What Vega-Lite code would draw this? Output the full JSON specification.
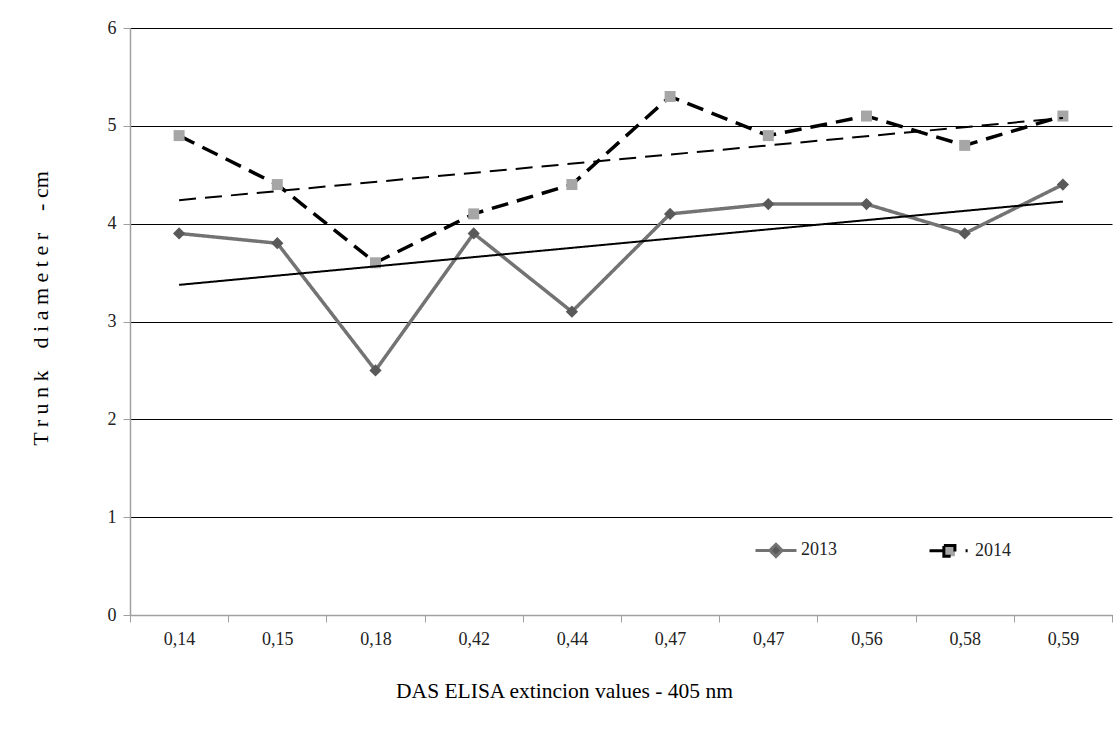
{
  "$schema": "https://vega.github.io/schema/vega-lite/v6.json",
  "width": 982,
  "height": 587,
  "autosize": {"type": "none"},
  "padding": {"left": 130, "top": 28, "right": 1, "bottom": 124},
  "background": "white",
  "config": {
    "view": {"stroke": null},
    "font": "Liberation Serif",
    "axis": {"labelFont": "Liberation Serif", "titleFont": "Liberation Serif", "titleFontWeight": "normal"},
    "legend": {"labelFont": "Liberation Serif"}
  },
  "data": {
    "values": [
      {"i": 1, "elisa": "0,14", "year": "2013", "d": 3.9},
      {"i": 2, "elisa": "0,15", "year": "2013", "d": 3.8},
      {"i": 3, "elisa": "0,18", "year": "2013", "d": 2.5},
      {"i": 4, "elisa": "0,42", "year": "2013", "d": 3.9},
      {"i": 5, "elisa": "0,44", "year": "2013", "d": 3.1},
      {"i": 6, "elisa": "0,47", "year": "2013", "d": 4.1},
      {"i": 7, "elisa": "0,47", "year": "2013", "d": 4.2},
      {"i": 8, "elisa": "0,56", "year": "2013", "d": 4.2},
      {"i": 9, "elisa": "0,58", "year": "2013", "d": 3.9},
      {"i": 10, "elisa": "0,59", "year": "2013", "d": 4.4},
      {"i": 1, "elisa": "0,14", "year": "2014", "d": 4.9},
      {"i": 2, "elisa": "0,15", "year": "2014", "d": 4.4},
      {"i": 3, "elisa": "0,18", "year": "2014", "d": 3.6},
      {"i": 4, "elisa": "0,42", "year": "2014", "d": 4.1},
      {"i": 5, "elisa": "0,44", "year": "2014", "d": 4.4},
      {"i": 6, "elisa": "0,47", "year": "2014", "d": 5.3},
      {"i": 7, "elisa": "0,47", "year": "2014", "d": 4.9},
      {"i": 8, "elisa": "0,56", "year": "2014", "d": 5.1},
      {"i": 9, "elisa": "0,58", "year": "2014", "d": 4.8},
      {"i": 10, "elisa": "0,59", "year": "2014", "d": 5.1}
    ]
  },
  "encoding": {
    "x": {
      "field": "i",
      "type": "ordinal",
      "scale": {"type": "band", "paddingInner": 0, "paddingOuter": 0},
      "axis": {
        "title": "DAS ELISA extincion values - 405 nm",
        "titleFont": "Liberation Serif",
        "titleFontSize": 21.5,
        "titleColor": "#000000",
        "titleX": 434,
        "titleY": 76,
        "titleBaseline": "middle",
        "titleAnchor": "middle",
        "labelExpr": "['0,14','0,15','0,18','0,42','0,44','0,47','0,47','0,56','0,58','0,59'][datum.value-1]",
        "labelFont": "Liberation Serif",
        "labelAngle": 0,
        "labelFontSize": 18,
        "labelColor": "#222222",
        "labelPadding": 8,
        "tickBand": "extent",
        "tickSize": 7,
        "tickColor": "#a0a0a0",
        "domainColor": "#a0a0a0",
        "domainWidth": 1.5,
        "grid": false
      }
    },
    "y": {
      "field": "d",
      "type": "quantitative",
      "scale": {"domain": [0, 6], "nice": false},
      "axis": {
        "title": "T r u n k \u00a0\u00a0 d i a m e t e r \u00a0\u00a0 - cm",
        "titleFont": "Liberation Serif",
        "titleFontSize": 22,
        "titleColor": "#000000",
        "titleX": -90,
        "titleY": 280,
        "titleAngle": -90,
        "titleBaseline": "middle",
        "titleAnchor": "middle",
        "values": [0, 1, 2, 3, 4, 5, 6],
        "labelFont": "Liberation Serif",
        "labelFontSize": 18,
        "labelColor": "#222222",
        "labelPadding": 7,
        "tickSize": 7,
        "tickColor": "#a0a0a0",
        "domainColor": "#a0a0a0",
        "domainWidth": 1.5,
        "grid": true,
        "gridColor": "#000000",
        "gridWidth": 1.2
      }
    }
  },
  "layer": [
    {
      "mark": {"type": "line", "strokeWidth": 3.5},
      "encoding": {
        "color": {
          "field": "year",
          "type": "nominal",
          "scale": {"domain": ["2013", "2014"], "range": ["#737373", "#000000"]},
          "legend": {
            "title": null,
            "orient": "none",
            "direction": "horizontal",
            "legendX": 624,
            "legendY": 500,
            "symbolType": "M-1,0L-0.3,0M0,-0.3L0.3,0L0,0.3L-0.3,0ZM0.3,0L1,0",
            "symbolSize": 1681,
            "symbolStrokeWidth": 3,
            "labelFontSize": 18,
            "labelColor": "#222222",
            "labelFont": "Liberation Serif",
            "labelOffset": 3,
            "columnPadding": 86,
            "encode": {
              "symbols": {
                "update": {
                  "shape": {"signal": "datum.value == '2013' ? 'M-1,0L-0.3,0M0,-0.3L0.3,0L0,0.3L-0.3,0ZM0.3,0L1,0' : 'M-1,0L-0.3,0M-0.3,-0.26L0.24,-0.26L0.24,0.26L-0.3,0.26ZM0.76,0L0.86,0'"},
                  "size": {"value": 1681},
                  "strokeWidth": {"value": 3},
                  "strokeDash": {"value": [1, 0]},
                  "fill": {"signal": "datum.value == '2013' ? '#595959' : '#a6a6a6'"},
                  "stroke": {"signal": "datum.value == '2013' ? '#737373' : '#000000'"},
                  "fillOpacity": {"value": 1},
                  "strokeOpacity": {"value": 1},
                  "opacity": {"value": 1}
                }
              }
            }
          }
        },
        "strokeDash": {
          "field": "year",
          "type": "nominal",
          "scale": {"domain": ["2013", "2014"], "range": [[1, 0], [17, 9]]},
          "legend": null
        }
      }
    },
    {
      "transform": [{"filter": "datum.year == '2013'"}],
      "mark": {"type": "point", "filled": true, "opacity": 1, "strokeWidth": 0, "shape": "diamond", "fill": "#595959", "size": 150}
    },
    {
      "transform": [{"filter": "datum.year == '2014'"}],
      "mark": {"type": "point", "filled": true, "opacity": 1, "strokeWidth": 0, "shape": "square", "fill": "#a6a6a6", "size": 121}
    },
    {
      "transform": [
        {"regression": "d", "on": "i", "groupby": ["year"]}
      ],
      "mark": {"type": "line", "color": "#000000", "strokeWidth": 2},
      "encoding": {
        "strokeDash": {
          "field": "year",
          "type": "nominal",
          "scale": {"domain": ["2013", "2014"], "range": [[1, 0], [12, 7]]},
          "legend": null
        }
      }
    }
  ]
}
